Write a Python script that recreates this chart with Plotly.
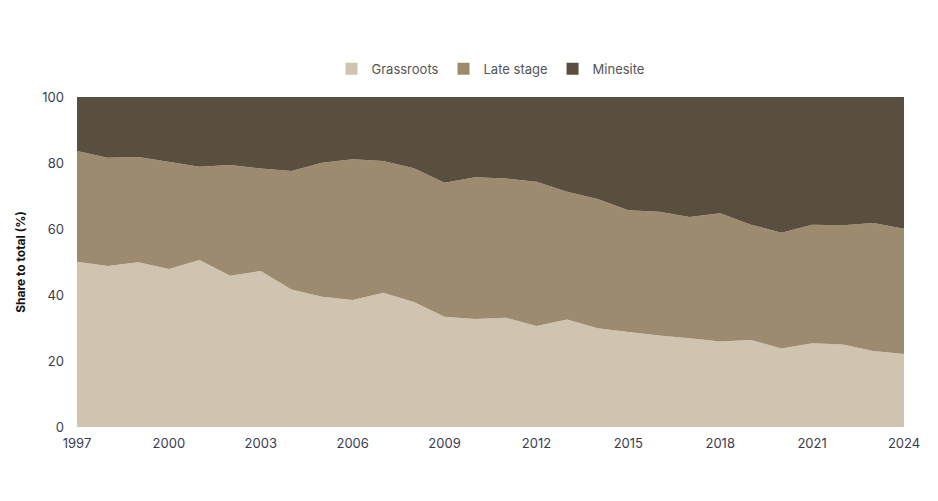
import plotly.graph_objects as go

years = list(range(1997, 2025))
grassroots = [50.1, 48.8, 49.9, 47.9, 50.6, 45.8, 47.3, 41.7, 39.5, 38.5,
              40.7, 37.9, 33.4, 32.7, 33.1, 30.6, 32.6, 29.9, 28.8, 27.7,
              26.9, 25.9, 26.4, 23.8, 25.4, 25.0, 23.0, 22.1]
top_late = [83.6, 81.6, 81.8, 80.4, 78.9, 79.4, 78.3, 77.6, 80.1, 81.1,
            80.6, 78.4, 74.0, 75.7, 75.3, 74.3, 71.3, 69.1, 65.7, 65.2,
            63.6, 64.8, 61.3, 58.9, 61.3, 61.1, 61.8, 60.1]
late_stage = [round(t - g, 1) for t, g in zip(top_late, grassroots)]
minesite = [round(100 - t, 1) for t in top_late]

series = [("Grassroots", grassroots, "#D0C3AF"),
          ("Late stage", late_stage, "#9D8B70"),
          ("Minesite", minesite, "#5A4F3F")]

fig = go.Figure()
for name, vals, col in series:
    fig.add_trace(go.Scatter(x=years, y=vals, name=name, mode="lines",
                             stackgroup="one", line=dict(width=0, color=col),
                             fillcolor=col, showlegend=False))
for name, vals, col in series:
    fig.add_trace(go.Scatter(x=[None], y=[None], name=name, mode="markers",
                             marker=dict(symbol="square", size=9, color=col),
                             showlegend=True))

fig.update_layout(
    width=938, height=501,
    margin=dict(l=63, r=42, t=89, b=82),
    paper_bgcolor="white", plot_bgcolor="white",
    font=dict(family="Inter, Lato, sans-serif", size=13, color="#3b3b4f"),
    legend=dict(orientation="h", x=0.5, xanchor="center", y=1.04, yanchor="bottom",
                font=dict(size=13, color="#555555"), traceorder="normal",
                itemwidth=30, itemsizing="constant"),
    xaxis=dict(range=[1997, 2024], tickmode="array",
               tickvals=list(range(1997, 2025, 3)), showgrid=False,
               zeroline=False, showline=False, ticks="", tickfont=dict(size=13),
               ticklabelstandoff=7),
    yaxis=dict(range=[0, 100], tickmode="array", tickvals=[0, 20, 40, 60, 80, 100],
               showgrid=False, zeroline=False, showline=False, ticks="",
               ticklabelstandoff=12,
               title=dict(text="<b>Share to total (%)</b>",
                          font=dict(size=12, color="#111111"), standoff=14)),
)
fig.write_html("out.html")
